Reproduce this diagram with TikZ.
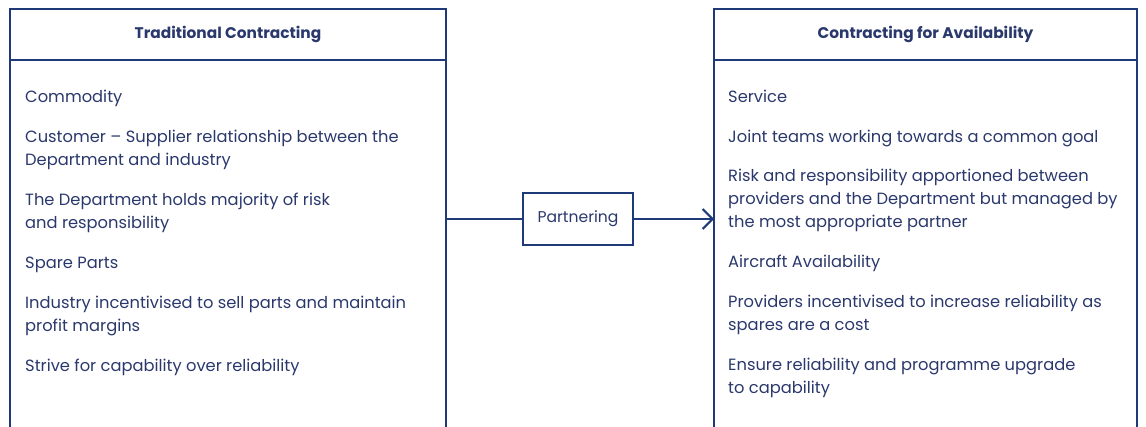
\documentclass[tikz,border=0pt]{standalone}
\usepackage{fontspec}
\setmainfont{Poppins}
\usetikzlibrary{arrows.meta,positioning}
\definecolor{navyline}{RGB}{30,58,120}
\definecolor{navytext}{RGB}{42,56,108}
\tikzset{
  panel/.style={draw=navyline, line width=2pt, inner sep=0pt, outer sep=0pt, anchor=north west},
  headbox/.style={panel, minimum height=51pt, text=navytext, font=\fontsize{15.4}{18}\selectfont\bfseries},
  bodybox/.style={panel, minimum height=420pt},
  itemtext/.style={align=left, inner sep=0pt, anchor=north west, text=navytext, font=\fontsize{16.3}{23}\selectfont},
  partbox/.style={draw=navyline, line width=2pt, outer sep=0pt, minimum width=110pt, minimum height=52pt, text=navytext, font=\fontsize{15.6}{18}\selectfont},
  link/.style={draw=navyline, line width=2pt}
}
\begin{document}
\begin{tikzpicture}[x=1pt, y=-1pt]
    \clip[use as bounding box] (0,0) rectangle (1146,427);

    % left column
    \node[headbox, minimum width=436pt] (lefthead) at (10,9) {Traditional Contracting};
    \node[bodybox, minimum width=436pt] (leftbody) at (lefthead.south west) {};
    \node[itemtext] (lefttext) at (25,89.5) {Commodity\\[17pt]
        Customer – Supplier relationship between the\\ Department and industry\\[17pt]
        The Department holds majority of risk\\ and responsibility\\[17pt]
        Spare Parts\\[17pt]
        Industry incentivised to sell parts and maintain\\ profit margins\\[17pt]
        Strive for capability over reliability};

    % right column
    \node[headbox, minimum width=423pt] (righthead) at (714,9) {Contracting for Availability};
    \node[bodybox, minimum width=423pt] (rightbody) at (righthead.south west) {};
    \node[itemtext] (righttext) at (728,89.5) {Service\\[17pt]
        Joint teams working towards a common goal\\[16pt]
        Risk and responsibility apportioned between\\ providers and the Department but managed by\\ the most appropriate partner\\[17pt]
        Aircraft Availability\\[17pt]
        Providers incentivised to increase reliability as\\ spares are a cost\\[17pt]
        Ensure reliability and programme upgrade\\ to capability};

    % link between the two
    \node[partbox] (partner) at (578,219) {Partnering};
    \draw[link] (leftbody.east |- partner.west) -- (partner.west);
    \draw[link, -{Straight Barb[length=10pt, width=20pt, line width=2pt]}] (partner.east) -- (partner.east -| rightbody.west);
\end{tikzpicture}
\end{document}
